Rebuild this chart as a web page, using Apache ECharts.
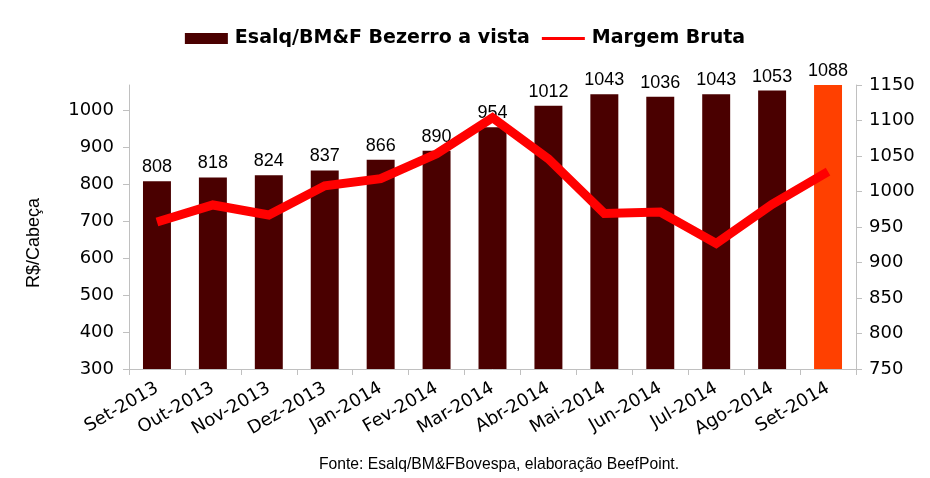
<!DOCTYPE html>
<html>
<head>
<meta charset="utf-8">
<script src="https://cdn.jsdelivr.net/npm/echarts@6/dist/echarts.min.js"></script>
<style>html,body{margin:0;padding:0;background:#fff;}#c{width:930px;height:478px;}</style>
</head>
<body>
<div id="c"></div>
<script>
var categories = ['Set-2013','Out-2013','Nov-2013','Dez-2013','Jan-2014','Fev-2014','Mar-2014','Abr-2014','Mai-2014','Jun-2014','Jul-2014','Ago-2014','Set-2014'];
var bezerroValues = [808, 818, 824, 837, 866, 890, 954, 1012, 1043, 1036, 1043, 1053, 1088];
var margemValues = [957, 981, 967, 1008, 1018, 1053, 1104, 1046, 969, 971, 927, 982, 1028];
var leftTicks = [300, 400, 500, 600, 700, 800, 900, 1000];
var highlightIndex = 12;

var barData = bezerroValues.map(function (v, i) {
  return i === highlightIndex ? { value: v, itemStyle: { color: '#FF4000' } } : v;
});

var plain = function (v) { return String(v); };

var chart = echarts.init(document.getElementById('c'), null, { renderer: 'canvas' });
chart.setOption({
  animation: false,
  backgroundColor: '#ffffff',
  legend: {
    top: 24,
    left: 'center',
    itemWidth: 43,
    itemHeight: 11,
    itemGap: 12,
    symbolKeepAspect: true,
    textStyle: { fontFamily: 'DejaVu Sans', fontWeight: 'bold', fontSize: 19, color: '#000', padding: [0, 0, 0, 2] },
    data: [
      { name: 'Esalq/BM&F Bezerro a vista', icon: 'rect' },
      { name: 'Margem Bruta', icon: 'path://M0,0L43,0L43,3L0,3Z' }
    ]
  },
  grid: { left: 129, right: 74, top: 85, bottom: 109, containLabel: false },
  xAxis: {
    type: 'category',
    data: categories,
    axisLine: { lineStyle: { color: '#c0c0c0', width: 1 } },
    axisTick: { show: true, length: 6, lineStyle: { color: '#c0c0c0' } },
    axisLabel: { rotate: 30, margin: 18, fontFamily: 'DejaVu Sans', fontSize: 18, color: '#000', interval: 0 },
    splitLine: { show: false }
  },
  yAxis: [
    {
      type: 'value',
      min: 300,
      max: 1068,
      interval: 100,
      position: 'left',
      axisLine: { show: true, lineStyle: { color: '#c0c0c0' } },
      axisTick: { show: true, length: 6, lineStyle: { color: '#c0c0c0' }, customValues: leftTicks },
      axisLabel: { margin: 15, fontFamily: 'DejaVu Sans', fontSize: 18, color: '#000', customValues: leftTicks, formatter: plain },
      splitLine: { show: false }
    },
    {
      type: 'value',
      min: 750,
      max: 1150,
      interval: 50,
      position: 'right',
      axisLine: { show: true, lineStyle: { color: '#c0c0c0' } },
      axisTick: { show: true, length: 6, lineStyle: { color: '#c0c0c0' } },
      axisLabel: { margin: 13, fontFamily: 'DejaVu Sans', fontSize: 18, color: '#000', formatter: plain },
      splitLine: { show: false }
    }
  ],
  graphic: [
    {
      type: 'text',
      x: 34, y: 243,
      rotation: Math.PI / 2,
      style: { text: 'R$/Cabeça', fontFamily: 'Liberation Sans', fontSize: 18, fill: '#000', align: 'center', verticalAlign: 'middle' }
    },
    {
      type: 'text',
      x: 499, y: 465,
      style: { text: 'Fonte: Esalq/BM&FBovespa, elaboração BeefPoint.', fontFamily: 'Liberation Sans', fontSize: 15.7, fill: '#000', align: 'center', verticalAlign: 'middle' }
    }
  ],
  series: [
    {
      name: 'Esalq/BM&F Bezerro a vista',
      type: 'bar',
      yAxisIndex: 0,
      data: barData,
      barWidth: '50%',
      clip: true,
      itemStyle: { color: '#4A0000' },
      label: { show: true, position: 'top', distance: 5, fontFamily: 'Liberation Sans', fontSize: 18, color: '#000' },
      z: 2
    },
    {
      name: 'Margem Bruta',
      type: 'line',
      yAxisIndex: 1,
      data: margemValues,
      symbol: 'none',
      itemStyle: { color: '#FF0000' },
      lineStyle: { color: '#FF0000', width: 9, join: 'miter', cap: 'butt' },
      z: 5
    }
  ]
});
</script>
</body>
</html>
